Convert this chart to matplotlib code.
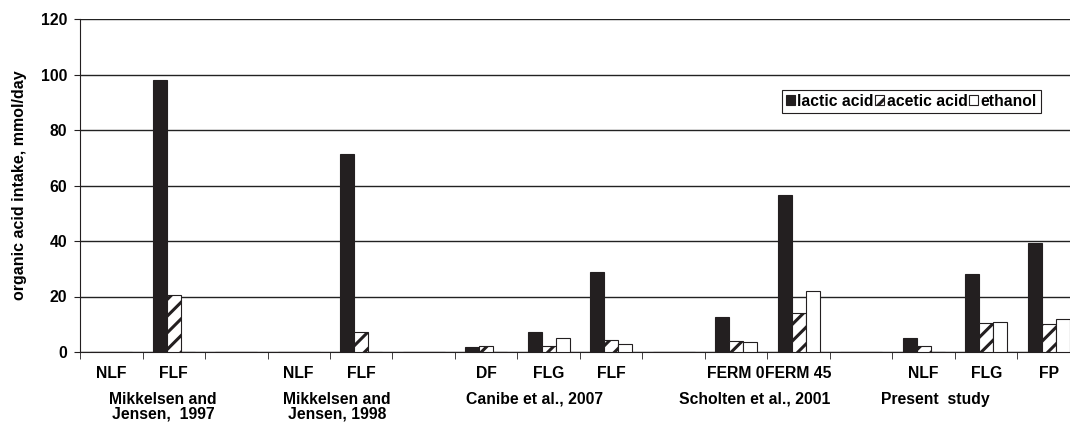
import numpy as np
import matplotlib
matplotlib.use("Agg")
import matplotlib.pyplot as plt
import matplotlib.transforms as mtransforms

plt.rcParams['font.family'] = ['Liberation Sans', 'DejaVu Sans']
plt.rcParams['font.weight'] = 'bold'
plt.rcParams['hatch.linewidth'] = 2.2

labelsize = 11.3

# treatments along the x axis (empty strings are spacer slots between studies)
categories = ['NLF', 'FLF', '', 'NLF', 'FLF', '', 'DF', 'FLG', 'FLF', '',
              'FERM 0', 'FERM 45', '', 'NLF', 'FLG', 'FP']

# intake, mmol/day
lactic = [0, 98, 0, 0, 71.5, 0, 1.9, 7.3, 28.8, 0, 12.7, 56.5, 0, 5.2, 28.1, 39.2]
acetic = [0, 20.5, 0, 0, 7.1, 0, 2.3, 2.3, 4.3, 0, 3.8, 13.9, 0, 2.0, 10.6, 10.2]
ethanol = [0, 0, 0, 0, 0, 0, 0, 4.9, 3.0, 0, 3.5, 22.1, 0, 0, 10.9, 12.0]

# study names and where they sit under the treatments
studies = ['Mikkelsen and\nJensen,  1997', 'Mikkelsen and\nJensen, 1998',
           'Canibe et al., 2007', 'Scholten et al., 2001', 'Present  study']
study_x = [0.83, 3.61, 6.77, 10.3, 13.19]

x = np.arange(len(categories))
w = 0.224
black = '#231f20'

fig = plt.figure(figsize=(10.7, 4.24), dpi=100)
ax = fig.add_axes([80 / 1070, 72 / 424, 1000 / 1070, 333 / 424])

ax.bar(x - w, lactic, w, color=black, edgecolor=black, linewidth=0.8,
       label='lactic acid', zorder=3)
ax.bar(x, acetic, w, color='white', edgecolor=black, hatch='//', linewidth=0.8,
       label='acetic acid', zorder=3)
ax.bar(x + w, ethanol, w, color='white', edgecolor=black, linewidth=0.8,
       label='ethanol', zorder=3)

ax.set_xlim(-0.5, len(categories) - 0.5)
ax.set_ylim(0, 120)
ax.set_yticks(np.arange(0, 121, 20))
ax.yaxis.grid(True, color='#222222', linewidth=1.0)
ax.set_axisbelow(True)

for s in ['top', 'right']:
    ax.spines[s].set_visible(False)
ax.spines['left'].set_color(black)
ax.spines['bottom'].set_color(black)

ax.set_xticks(x)
ax.set_xticklabels(categories, fontsize=labelsize, fontweight='bold')
ax.set_xticks(np.arange(-0.5, len(categories), 1.0), minor=True)
ax.tick_params(axis='x', which='major', length=0, pad=10)
ax.tick_params(axis='x', which='minor', length=5, direction='out', color=black)
ax.tick_params(axis='y', length=4, direction='out', pad=5, labelsize=labelsize,
               color=black)

ax.set_ylabel('organic acid intake, mmol/day', fontsize=11.5, fontweight='bold',
              labelpad=10)

trans = mtransforms.blended_transform_factory(ax.transData, ax.transAxes)
for name, sx in zip(studies, study_x):
    ax.text(sx, -0.12, name, transform=trans, ha='center', va='top',
            fontsize=labelsize, fontweight='bold', linespacing=1.0)

leg = ax.legend(loc='upper left', bbox_to_anchor=(0.702, 0.787), ncol=3,
                fontsize=11.3, handlelength=0.57, handleheight=0.57,
                handletextpad=0.15, columnspacing=0.1, borderpad=0.25,
                borderaxespad=0, fancybox=False, framealpha=1)
leg.get_frame().set_edgecolor(black)
leg.get_frame().set_linewidth(0.8)
for t in leg.get_texts():
    t.set_fontweight('bold')

fig.savefig('out.png', dpi=100)
